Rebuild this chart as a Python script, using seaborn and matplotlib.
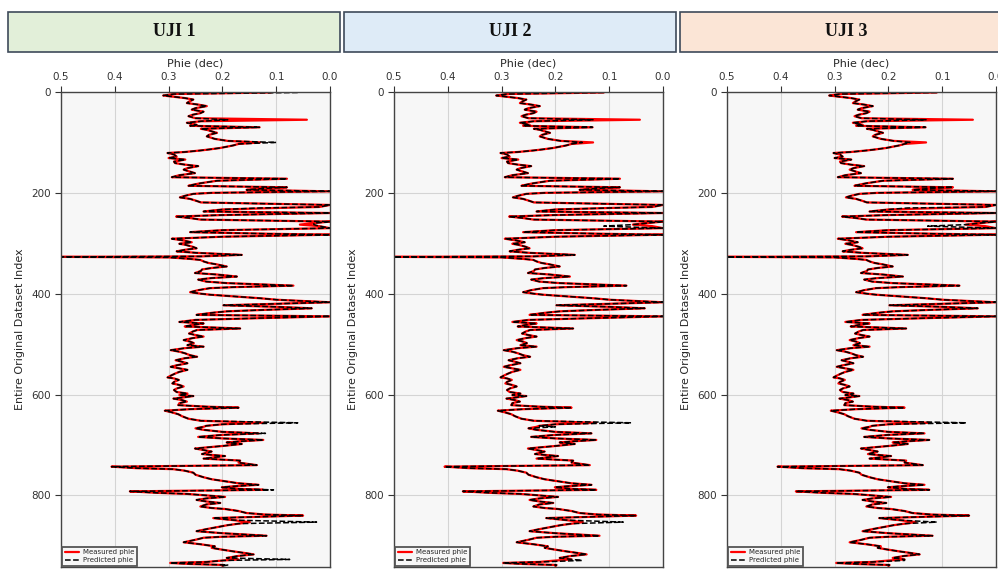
import matplotlib
matplotlib.use("Agg")
import matplotlib.pyplot as plt
from matplotlib.patches import Rectangle
import seaborn as sns
import pandas as pd

# Data (index along the well, porosity in decimal)
depth_index = [
    1, 4, 7, 12, 15, 19, 22, 25, 28, 32,
    35, 39, 42, 45, 48, 52, 55, 58, 61, 65,
    67, 70, 73, 75, 78, 81, 85, 88, 93, 97,
    100, 103, 106, 111, 114, 116, 119, 121, 124, 128,
    131, 134, 138, 141, 144, 147, 151, 154, 158, 161,
    165, 169, 172, 176, 181, 184, 186, 189, 191, 194,
    197, 200, 202, 206, 209, 212, 216, 219, 222, 224,
    228, 230, 233, 237, 240, 244, 247, 250, 253, 257,
    260, 263, 266, 270, 274, 278, 281, 283, 287, 291,
    294, 298, 301, 303, 307, 310, 313, 316, 319, 323,
    326, 327, 328, 331, 333, 336, 339, 342, 346, 349,
    352, 355, 359, 362, 366, 369, 372, 376, 379, 382,
    384, 387, 389, 393, 397, 400, 402, 406, 409, 412,
    417, 420, 423, 426, 429, 432, 435, 438, 442, 445,
    449, 452, 456, 459, 462, 465, 469, 472, 475, 479,
    482, 485, 488, 492, 495, 498, 502, 505, 508, 512,
    515, 518, 522, 525, 528, 532, 535, 538, 542, 545,
    548, 551, 555, 558, 562, 566, 568, 571, 575, 578,
    581, 584, 588, 591, 595, 598, 601, 603, 606, 608,
    611, 614, 617, 621, 624, 626, 629, 632, 635, 639,
    643, 648, 652, 656, 659, 662, 664, 667, 670, 674,
    677, 680, 684, 687, 690, 693, 695, 698, 702, 707,
    710, 713, 718, 722, 727, 731, 735, 738, 740, 743,
    746, 748, 751, 755, 759, 764, 768, 773, 776, 779,
    782, 784, 787, 789, 792, 795, 797, 800, 803, 806,
    809, 812, 815, 818, 822, 825, 827, 831, 835, 838,
    840, 843, 845, 849, 853, 856, 859, 863, 867, 871,
    875, 878, 880, 882, 884, 888, 893, 897, 901, 904,
    907, 911, 914, 917, 920, 924, 927, 929, 932, 934,
    936, 938, 940,
]

phie_measured = [
    0.11, 0.29, 0.31, 0.27, 0.254, 0.262, 0.266, 0.245, 0.229, 0.25,
    0.257, 0.235, 0.241, 0.255, 0.263, 0.25, 0.043, 0.24, 0.266, 0.248,
    0.26, 0.131, 0.24, 0.229, 0.22, 0.21, 0.225, 0.229, 0.214, 0.19,
    0.13, 0.17, 0.18, 0.204, 0.225, 0.241, 0.27, 0.302, 0.29, 0.285,
    0.3, 0.269, 0.29, 0.288, 0.27, 0.245, 0.265, 0.272, 0.26, 0.251,
    0.28, 0.294, 0.08, 0.21, 0.241, 0.255, 0.263, 0.08, 0.12, 0.155,
    0.0, 0.22, 0.254, 0.27, 0.279, 0.26, 0.248, 0.24, 0.099, 0.0,
    0.02, 0.1, 0.2, 0.235, 0.0, 0.2, 0.286, 0.26, 0.241, 0.0,
    0.03, 0.056, 0.02, 0.0, 0.2, 0.26, 0.12, 0.0, 0.2, 0.294,
    0.275, 0.257, 0.28, 0.269, 0.255, 0.248, 0.27, 0.285, 0.248, 0.164,
    0.24, 0.5, 0.3, 0.26, 0.241, 0.235, 0.226, 0.21, 0.192, 0.22,
    0.238, 0.24, 0.251, 0.21, 0.173, 0.22, 0.245, 0.23, 0.192, 0.12,
    0.068, 0.18, 0.223, 0.245, 0.26, 0.24, 0.223, 0.17, 0.13, 0.099,
    0.0, 0.1, 0.198, 0.1, 0.034, 0.12, 0.192, 0.22, 0.248, 0.0,
    0.15, 0.25, 0.28, 0.235, 0.255, 0.27, 0.167, 0.247, 0.255, 0.262,
    0.25, 0.235, 0.255, 0.272, 0.26, 0.253, 0.265, 0.235, 0.27, 0.296,
    0.28, 0.27, 0.26, 0.247, 0.27, 0.287, 0.275, 0.265, 0.285, 0.296,
    0.28, 0.265, 0.28, 0.287, 0.295, 0.302, 0.29, 0.281, 0.29, 0.293,
    0.28, 0.272, 0.285, 0.29, 0.285, 0.265, 0.28, 0.254, 0.275, 0.291,
    0.275, 0.266, 0.28, 0.282, 0.23, 0.17, 0.26, 0.307, 0.295, 0.282,
    0.275, 0.263, 0.24, 0.124, 0.2, 0.23, 0.235, 0.25, 0.235, 0.2,
    0.133, 0.2, 0.245, 0.2, 0.124, 0.17, 0.192, 0.164, 0.2, 0.251,
    0.235, 0.22, 0.238, 0.195, 0.235, 0.167, 0.17, 0.15, 0.136, 0.406,
    0.36, 0.291, 0.27, 0.254, 0.25, 0.235, 0.22, 0.189, 0.17, 0.133,
    0.18, 0.201, 0.17, 0.124, 0.372, 0.32, 0.266, 0.23, 0.195, 0.23,
    0.248, 0.23, 0.204, 0.23, 0.241, 0.22, 0.195, 0.17, 0.155, 0.12,
    0.05, 0.15, 0.217, 0.18, 0.149, 0.17, 0.19, 0.21, 0.23, 0.248,
    0.2, 0.15, 0.118, 0.2, 0.235, 0.25, 0.272, 0.24, 0.214, 0.22,
    0.204, 0.18, 0.16, 0.142, 0.17, 0.192, 0.17, 0.198, 0.23, 0.297,
    0.26, 0.198, 0.2,
]

# Predicted phie per test, only where it visibly departs from the measured curve
pred_uji1 = {1: 0.06, 55: 0.19, 100: 0.10, 230: 0.13, 263: 0.03, 656: 0.06,
             677: 0.12, 789: 0.105, 853: 0.025, 927: 0.075, 938: 0.19}
pred_uji2 = {55: 0.13, 100: 0.15, 266: 0.11, 656: 0.059, 664: 0.2,
             853: 0.074, 929: 0.15}
pred_uji3 = {55: 0.13, 100: 0.16, 230: 0.164, 266: 0.127, 656: 0.055,
             853: 0.11, 929: 0.17}

panel_titles = ["UJI 1", "UJI 2", "UJI 3"]
panel_preds = [pred_uji1, pred_uji2, pred_uji3]
title_colors = ["#e2efd9", "#deebf7", "#fbe5d6"]

sns.set_style("whitegrid", {"axes.facecolor": "#f7f7f7",
                            "grid.color": "#d4d4d4",
                            "axes.edgecolor": "#444444"})
plt.rcParams['font.family'] = ['DejaVu Sans']

W, H = 998, 570
fig = plt.figure(figsize = (W / 100, H / 100), dpi = 100)

ax_lefts = [61, 394, 727]
box_lefts = [8, 344, 680]

for i, title in enumerate(panel_titles):

    # Coloured title box above each track
    fig.add_artist(Rectangle((box_lefts[i] / W, 1 - 52 / H), 332 / W, 40 / H,
                             transform = fig.transFigure, facecolor = title_colors[i],
                             edgecolor = "#3e4a5a", linewidth = 1.2))
    fig.text((box_lefts[i] + 166) / W, 1 - 32 / H, title, ha = 'center', va = 'center',
             fontsize = 13, fontweight = 'bold', family = 'Liberation Serif', color = '#111111')

    ax = fig.add_axes([ax_lefts[i] / W, 3 / H, 269 / W, 475 / H])

    pred = [panel_preds[i].get(d, m) for d, m in zip(depth_index, phie_measured)]
    df = pd.DataFrame({'idx': depth_index, 'measured': phie_measured, 'predicted': pred})

    sns.lineplot(data = df, x = 'measured', y = 'idx', ax = ax, sort = False, estimator = None,
                 orient = 'y', color = 'red', linewidth = 1.6, label = 'Measured phie')
    sns.lineplot(data = df, x = 'predicted', y = 'idx', ax = ax, sort = False, estimator = None,
                 orient = 'y', color = 'black', linewidth = 1.1, linestyle = '--',
                 label = 'Predicted phie')

    ax.set_xlim(0.5, 0.0)
    ax.set_ylim(942, 0)
    ax.set_xticks([0.5, 0.4, 0.3, 0.2, 0.1, 0.0])
    ax.set_yticks([0, 200, 400, 600, 800])
    ax.xaxis.tick_top()
    ax.xaxis.set_label_position('top')
    ax.set_xlabel('Phie (dec)', fontsize = 8, labelpad = 4)
    ax.set_ylabel('Entire Original Dataset Index', fontsize = 8)
    ax.tick_params(axis = 'both', labelsize = 7.5, length = 4, width = 0.8,
                   colors = '#333333', left = True, top = True, bottom = False)
    for s in ax.spines.values():
        s.set_linewidth(1.0)

    # Small framed legend in the lower-left corner
    leg = ax.legend(loc = 'lower left', fontsize = 5, frameon = True, fancybox = False,
                    edgecolor = '#555555', framealpha = 1, borderaxespad = 0.2,
                    handlelength = 2.0, borderpad = 0.35, labelspacing = 0.3,
                    handletextpad = 0.6)
    leg.get_frame().set_linewidth(1.3)

fig.savefig("out.png", dpi = 100)
